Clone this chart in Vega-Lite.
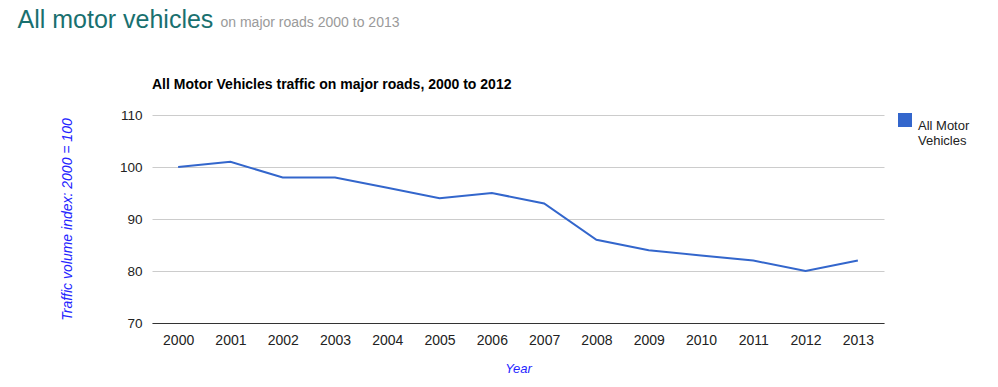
{
  "$schema": "https://vega.github.io/schema/vega-lite/v6.json",
  "background": "white",
  "padding": {"left": 17, "top": 8, "right": 5, "bottom": 5},
  "config": {
    "font": "Liberation Sans",
    "view": {"stroke": null},
    "concat": {"spacing": 0}
  },
  "title": {
    "text": "All motor vehicles",
    "anchor": "start",
    "frame": "bounds",
    "font": "Liberation Sans",
    "fontSize": 25,
    "fontWeight": "normal",
    "color": "#19706f",
    "dx": -43,
    "offset": -17
  },
  "vconcat": [
    {
      "title": {
        "text": "on major roads 2000 to 2013",
        "anchor": "start",
        "frame": "bounds",
        "font": "Liberation Sans",
        "fontSize": 14,
        "fontWeight": "normal",
        "color": "#9a9a9a",
        "dx": 160,
        "offset": 48
      },
      "vconcat": [
        {
          "title": {
            "text": "All Motor Vehicles traffic on major roads, 2000 to 2012",
            "anchor": "start",
            "frame": "group",
            "font": "Liberation Sans",
            "fontSize": 14,
            "fontWeight": "bold",
            "color": "#000000",
            "offset": 16
          },
          "width": 732,
          "height": 208,
          "data": {
            "values": [
              {"year": "2000", "index": 100, "series": "All Motor Vehicles"},
              {"year": "2001", "index": 101, "series": "All Motor Vehicles"},
              {"year": "2002", "index": 98, "series": "All Motor Vehicles"},
              {"year": "2003", "index": 98, "series": "All Motor Vehicles"},
              {"year": "2004", "index": 96, "series": "All Motor Vehicles"},
              {"year": "2005", "index": 94, "series": "All Motor Vehicles"},
              {"year": "2006", "index": 95, "series": "All Motor Vehicles"},
              {"year": "2007", "index": 93, "series": "All Motor Vehicles"},
              {"year": "2008", "index": 86, "series": "All Motor Vehicles"},
              {"year": "2009", "index": 84, "series": "All Motor Vehicles"},
              {"year": "2010", "index": 83, "series": "All Motor Vehicles"},
              {"year": "2011", "index": 82, "series": "All Motor Vehicles"},
              {"year": "2012", "index": 80, "series": "All Motor Vehicles"},
              {"year": "2013", "index": 82, "series": "All Motor Vehicles"}
            ]
          },
          "mark": {"type": "line", "strokeWidth": 2},
          "encoding": {
            "x": {
              "field": "year",
              "type": "ordinal",
              "scale": {"type": "point", "padding": 0.5},
              "axis": {
                "title": "Year",
                "labelAngle": 0,
                "labelFontSize": 14,
                "labelColor": "#222222",
                "labelPadding": 10,
                "ticks": false,
                "grid": false,
                "domain": true,
                "domainColor": "#333333",
                "domainWidth": 1,
                "titleFontSize": 13,
                "titleFontStyle": "italic",
                "titleFontWeight": "normal",
                "titleColor": "#2424ff",
                "titlePadding": 15
              }
            },
            "y": {
              "field": "index",
              "type": "quantitative",
              "scale": {"domain": [70, 110], "nice": false, "zero": false},
              "axis": {
                "title": "Traffic volume index: 2000 = 100",
                "values": [70, 80, 90, 100, 110],
                "labelFontSize": 13.5,
                "labelColor": "#222222",
                "labelPadding": 10,
                "ticks": false,
                "domain": false,
                "grid": true,
                "gridColor": "#cccccc",
                "gridWidth": 1,
                "titleFontSize": 14,
                "titleFontStyle": "italic",
                "titleFontWeight": "normal",
                "titleColor": "#2424ff",
                "titlePadding": 45
              }
            },
            "color": {
              "field": "series",
              "type": "nominal",
              "scale": {"range": ["#3366cc"]},
              "legend": {
                "title": null,
                "orient": "none",
                "legendX": 746,
                "legendY": -2,
                "padding": 0,
                "symbolType": "square",
                "symbolSize": 196,
                "symbolFillColor": "#3366cc",
                "symbolStrokeColor": "#3366cc",
                "symbolStrokeWidth": 0,
                "symbolOpacity": 1,
                "labelFontSize": 13,
                "labelColor": "#222222",
                "labelOffset": 6,
                "labelBaseline": "top",
                "labelLimit": 200,
                "labelExpr": "['All Motor', 'Vehicles']"
              }
            }
          }
        }
      ]
    }
  ]
}
